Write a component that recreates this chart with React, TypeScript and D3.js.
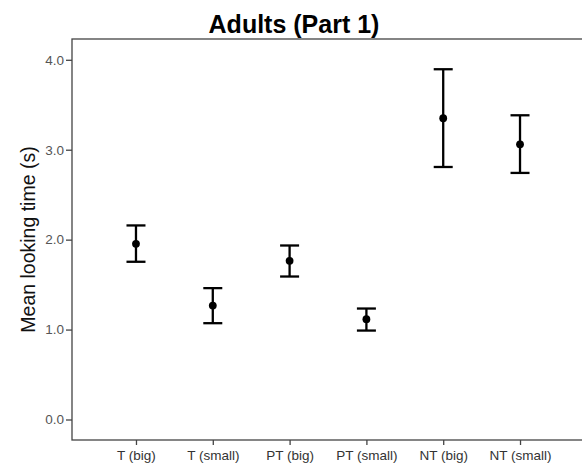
import * as d3 from "d3";
import React, { useEffect, useRef } from "react";

const categories = ["T (big)", "T (small)", "PT (big)", "PT (small)", "NT (big)", "NT (small)"];
const means = [1.954, 1.267, 1.765, 1.116, 3.35, 3.06];
const upper = [2.158, 1.461, 1.935, 1.234, 3.895, 3.383];
const lower = [1.754, 1.071, 1.59, 0.989, 2.808, 2.742];
const yTicks = [0, 1, 2, 3, 4];

const W = 582;
const H = 464;
const left = 72;
const top = 39;
const bottom = 440;
const right = 584;

function App() {
  const ref = useRef<SVGSVGElement>(null);

  useEffect(() => {
    document.body.style.margin = "0";
    const svg = d3.select(ref.current);
    svg.selectAll("*").remove();

    const x = d3.scalePoint().domain(categories).range([left, right]).padding(0.833);
    const y = d3.scaleLinear().domain([0, 4]).range([419.5, 59.8]);

    // frame
    svg.append("rect")
      .attr("x", left).attr("y", top)
      .attr("width", right - left).attr("height", bottom - top)
      .attr("fill", "none").attr("stroke", "#444").attr("stroke-width", 1.3);

    // y axis
    const yAxis = svg.append("g").attr("transform", `translate(${left},0)`)
      .call(d3.axisLeft(y).tickValues(yTicks).tickFormat(d3.format(".1f")).tickSize(6).tickSizeOuter(0));
    yAxis.select(".domain").remove();
    yAxis.selectAll("line").attr("stroke", "#444").attr("stroke-width", 1.3);
    yAxis.selectAll("text")
      .attr("fill", "#555").attr("font-size", 13.5)
      .attr("font-family", "Liberation Sans, Arial, sans-serif").attr("dx", 1);

    // x axis
    const xAxis = svg.append("g").attr("transform", `translate(0,${bottom})`)
      .call(d3.axisBottom(x).tickSize(5).tickSizeOuter(0));
    xAxis.select(".domain").remove();
    xAxis.selectAll("line").attr("stroke", "#444").attr("stroke-width", 1.3);
    xAxis.selectAll("text")
      .attr("fill", "#333").attr("font-size", 13.5)
      .attr("font-family", "Liberation Sans, Arial, sans-serif").attr("dy", "0.9em");

    // error bars
    const g = svg.append("g");
    const cap = 9.5;
    categories.forEach((c, i) => {
      const cx = x(c)!;
      g.append("line")
        .attr("x1", cx).attr("x2", cx)
        .attr("y1", y(upper[i])).attr("y2", y(lower[i]))
        .attr("stroke", "#000").attr("stroke-width", 2.3);
      [upper[i], lower[i]].forEach((v) => {
        g.append("line")
          .attr("x1", cx - cap).attr("x2", cx + cap)
          .attr("y1", y(v)).attr("y2", y(v))
          .attr("stroke", "#000").attr("stroke-width", 2.3);
      });
      g.append("circle")
        .attr("cx", cx).attr("cy", y(means[i])).attr("r", 3.9)
        .attr("fill", "#000");
    });

    // titles
    svg.append("text")
      .attr("x", 294).attr("y", 33)
      .attr("text-anchor", "middle")
      .attr("font-family", "Liberation Sans, Arial, sans-serif")
      .attr("font-weight", "bold").attr("font-size", 25)
      .attr("fill", "#000")
      .text("Adults (Part 1)");

    svg.append("text")
      .attr("transform", `translate(35,${(top + bottom) / 2}) rotate(-90)`)
      .attr("text-anchor", "middle")
      .attr("font-family", "Liberation Sans, Arial, sans-serif")
      .attr("font-size", 19.5)
      .attr("fill", "#111")
      .text("Mean looking time (s)");
  }, []);

  return <svg ref={ref} width={W} height={H} style={{ display: "block", background: "#fff" }} />;
}

export default App;
